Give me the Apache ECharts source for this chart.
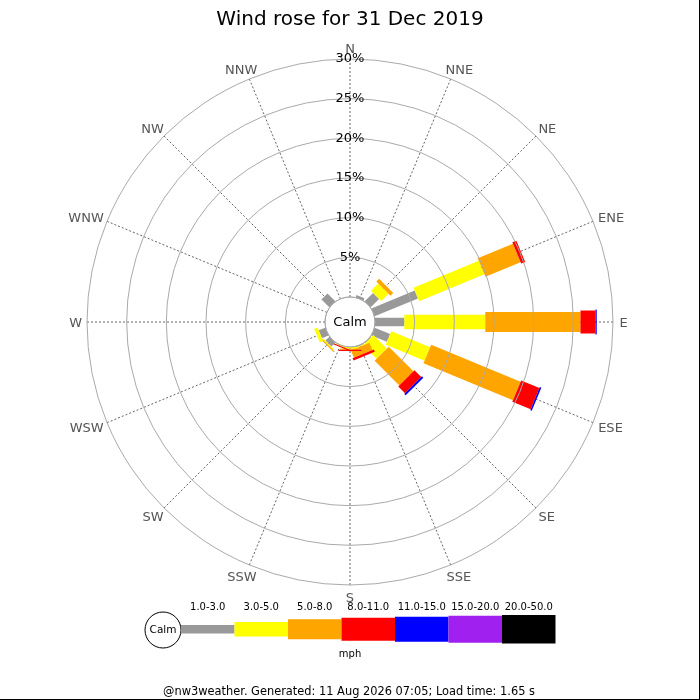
<!DOCTYPE html>
<html>
<head>
<meta charset="utf-8">
<script src="https://cdn.jsdelivr.net/npm/echarts@6/dist/echarts.min.js"></script>
<style>
html,body{margin:0;padding:0;background:#fff;}
#rose{width:700px;height:700px;}
</style>
</head>
<body>
<div id="rose"></div>
<script>
// directions and speed bands
var dirs = ['N','NNE','NE','ENE','E','ESE','SE','SSE','S','SSW','SW','WSW','W','WNW','NW','NNW'];
var bands = ['1.0-3.0','3.0-5.0','5.0-8.0','8.0-11.0','11.0-15.0','15.0-20.0','20.0-50.0'];
var bandColors = ['#999999','#ffff00','#ffa500','#ff0000','#0000ff','#a020f0','#000000'];
var bandWidths = [8.5, 14.5, 20, 23, 25, 27, 28.5];
var radiusTicks = [0, 5, 10, 15, 20, 25, 30];

// percent of time per direction, one array per speed band
var s1_3   = [0, 0.3, 1.5, 5.9, 3.7, 2.1, 0.1, 0.1, 0,    0,    0.7,  0.9,  0, 0, 1.4, 0];
var s3_5   = [0, 0,   1.3, 8.9, 10.2, 5.3, 2.4, 0.1, 0.2,  0.1,  0.15, 0.45, 0, 0, 0,   0];
var s5_8   = [0, 0,   0.5, 4.8, 12.0, 12.2, 4.4, 1.0, 0.15, 0,    0.15, 0,    0, 0, 0,   0];
var s8_11  = [0, 0,   0,   0.55, 1.9, 2.5, 1.2, 0.3, 0.15, 0.15, 0,    0,    0, 0, 0,   0];
var s11_15 = [0, 0,   0,   0,   0.15, 0.2, 0.25, 0,  0,    0,    0,    0,    0, 0, 0,   0];
var s15_20 = [0, 0,   0,   0,   0,    0,   0,    0,  0,    0,    0,    0,    0, 0, 0,   0];
var s20_50 = [0, 0,   0,   0,   0,    0,   0,    0,  0,    0,    0,    0,    0, 0, 0,   0];

var title = 'Wind rose for 31 Dec 2019';
var footer = '@nw3weather. Generated: 11 Aug 2026 07:05; Load time: 1.65 s';
var unit = 'mph';

var font = 'DejaVu Sans';
var step = 360 / dirs.length;
var series_vals = [s1_3, s3_5, s5_8, s8_11, s11_15, s15_20, s20_50];

// stacked segments [start, end, angle, band]
var segs = [];
for (var d = 0; d < dirs.length; d++) {
	var acc = 0;
	for (var b = 0; b < series_vals.length; b++) {
		var v = series_vals[b][d];
		if (v > 0) {
			segs.push([acc, acc + v, d * step, b]);
			acc += v;
		}
	}
}
var dirData = [];
for (var d = 0; d < dirs.length; d++) dirData.push([radiusTicks[radiusTicks.length - 1], d * step, d]);

var measure = document.createElement('canvas').getContext('2d');

function renderSeg(params, api) {
	var a = api.value(2), b = api.value(3);
	var p0 = api.coord([api.value(0), a]);
	var p1 = api.coord([api.value(1), a]);
	var q0 = api.coord([0, a]), q1 = api.coord([30, a]);
	var ux = q1[0] - q0[0], uy = q1[1] - q0[1];
	var l = Math.sqrt(ux * ux + uy * uy);
	ux /= l; uy /= l;
	var h = bandWidths[b] / 2;
	var nx = -uy * h, ny = ux * h;
	return {
		type: 'polygon',
		shape: {points: [
			[p0[0] + nx, p0[1] + ny], [p1[0] + nx, p1[1] + ny],
			[p1[0] - nx, p1[1] - ny], [p0[0] - nx, p0[1] - ny]
		]},
		style: {fill: bandColors[b]}
	};
}

function renderDir(params, api) {
	var cs = params.coordSys;
	var p = api.coord([api.value(0), api.value(1)]);
	var name = dirs[api.value(2)];
	var ux = p[0] - cs.cx, uy = p[1] - cs.cy;
	var l = Math.sqrt(ux * ux + uy * uy);
	ux /= l; uy /= l;
	measure.font = '13px "DejaVu Sans"';
	var w = measure.measureText(name).width, hgt = 13;
	return {
		type: 'text',
		style: {
			x: p[0] + ux * 5 + ux * w / 2 + (ux > 0.1 ? 1.5 : 0), y: p[1] + uy * 5 + uy * hgt / 2 + 2,
			text: name, fill: '#555', font: '13px "DejaVu Sans"', align: 'center', verticalAlign: 'middle'
		}
	};
}

function renderCalm(params, api) {
	var cs = params.coordSys;
	return {
		type: 'group',
		children: [{
			type: 'circle',
			shape: {cx: cs.cx, cy: cs.cy, r: cs.r0},
			style: {fill: '#fff', stroke: '#aaaaaa', lineWidth: 1}
		}, {
			type: 'text',
			style: {x: cs.cx, y: cs.cy + 1, text: 'Calm', fill: '#000', font: '13px "DejaVu Sans"', align: 'center', verticalAlign: 'middle'}
		}]
	};
}

// legend drawn under the rose
var legend = [];
var lx = 181, lw = 53.5, ly = 629.2;
legend.push({type: 'circle', shape: {cx: 163, cy: 630, r: 18}, style: {fill: '#fff', stroke: '#000', lineWidth: 1}});
legend.push({type: 'text', style: {x: 163, y: 630, text: 'Calm', fill: '#000', font: '10.5px "DejaVu Sans"', align: 'center', verticalAlign: 'middle'}});
for (var i = 0; i < bands.length; i++) {
	legend.push({type: 'rect', shape: {x: lx + i * lw, y: ly - bandWidths[i] / 2, width: lw, height: bandWidths[i]}, style: {fill: bandColors[i]}});
	legend.push({type: 'text', style: {x: lx + i * lw + lw / 2, y: 607, text: bands[i], fill: '#000', font: '10px "DejaVu Sans"', align: 'center', verticalAlign: 'middle'}});
}
legend.push({type: 'text', style: {x: 350, y: 654, text: unit, fill: '#000', font: '10px "DejaVu Sans"', align: 'center', verticalAlign: 'middle'}});
legend.push({type: 'text', style: {x: 349, y: 692, text: footer, fill: '#000', font: '11.4px "DejaVu Sans"', align: 'center', verticalAlign: 'middle'}});
legend.push({type: 'line', shape: {x1: 699.5, y1: 0, x2: 699.5, y2: 700}, style: {stroke: '#000', lineWidth: 1}});
legend.push({type: 'line', shape: {x1: 0, y1: 699.5, x2: 700, y2: 699.5}, style: {stroke: '#000', lineWidth: 1}});

var chart = echarts.init(document.getElementById('rose'));
var option = {
	animation: false,
	backgroundColor: '#fff',
	textStyle: {fontFamily: font},
	title: {
		text: title,
		left: 'center',
		top: 5,
		textStyle: {fontSize: 20, fontWeight: 'normal', color: '#000', fontFamily: font}
	},
	polar: {center: [350, 322], radius: [25, 263]},
	angleAxis: {
		type: 'value',
		min: 0,
		max: 360,
		interval: step,
		startAngle: 90,
		clockwise: true,
		axisLine: {show: false},
		axisTick: {show: false},
		axisLabel: {show: false},
		splitLine: {show: true, lineStyle: {color: '#666', type: [2, 2], width: 1}}
	},
	radiusAxis: {
		type: 'value',
		min: radiusTicks[0],
		max: radiusTicks[radiusTicks.length - 1],
		interval: 5,
		z: 20,
		axisLine: {show: false},
		axisTick: {show: false},
		axisLabel: {
			formatter: function (v) { return v === 0 ? '' : v + '%'; },
			color: '#000', fontSize: 13, margin: 0, align: 'center', verticalAlign: 'middle',
			padding: [3, 0, 0, 0], fontFamily: font
		},
		splitLine: {show: true, lineStyle: {color: '#aaaaaa', width: 1}}
	},
	graphic: legend,
	series: [{
		type: 'custom',
		coordinateSystem: 'polar',
		renderItem: renderCalm,
		data: [[0, 0]],
		silent: true,
		z: 3
	}, {
		type: 'custom',
		coordinateSystem: 'polar',
		renderItem: renderSeg,
		encode: {radius: [0, 1], angle: 2},
		data: segs,
		silent: true,
		z: 4
	}, {
		type: 'custom',
		coordinateSystem: 'polar',
		renderItem: renderDir,
		encode: {radius: 0, angle: 1},
		data: dirData,
		silent: true,
		clip: false,
		z: 5
	}]
};
chart.setOption(option);
</script>
</body>
</html>
